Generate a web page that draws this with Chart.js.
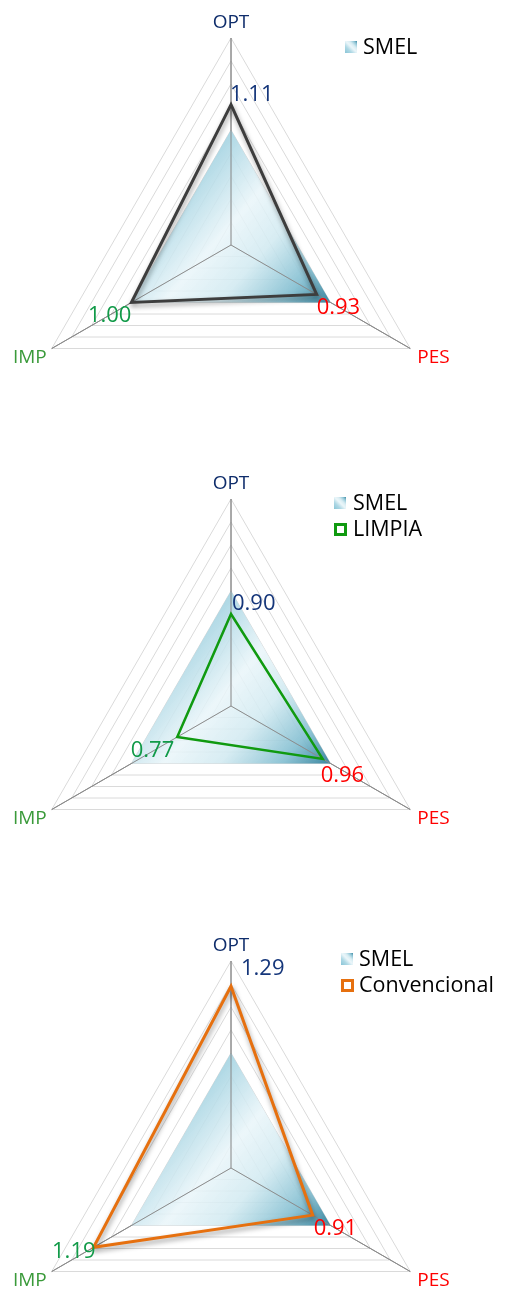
<!DOCTYPE html>
<html>
<head>
<meta charset="utf-8">
<script src="https://cdn.jsdelivr.net/npm/chart.js@4.4.0/dist/chart.umd.min.js"></script>
<style>
  html, body { margin: 0; padding: 0; background: #ffffff; overflow: hidden; }
  #wrap { position: relative; width: 506px; height: 1290px; overflow: hidden; }
  canvas { position: absolute; left: 0; }
</style>
</head>
<body>
<div id="wrap">
  <canvas id="c1" width="506" height="470" style="top:0px"></canvas>
  <canvas id="c2" width="506" height="500" style="top:430px"></canvas>
  <canvas id="c3" width="506" height="560" style="top:860px"></canvas>
</div>
<script>
// Axes, clockwise from the top
const categories = ['OPT', 'PES', 'IMP'];

// Reference profile and the three compared methods
const smel = [1.00, 1.00, 1.00];
const resultado = [1.11, 0.93, 1.00];
const limpia = [0.90, 0.96, 0.77];
const convencional = [1.29, 0.91, 1.19];

// Radial scale range
const scaleMin = 0.5;
const scaleMax = 1.4;
const scaleStep = 0.1;

const FONT = '"Open Sans", "DejaVu Sans", sans-serif';
const axisLabelColors = ['#0f2d6b', '#ff0000', '#3a9a3a'];
const valueLabelColors = ['#15367a', '#ff0000', '#119a48'];

function smelGradient(ctx2d, x0, y0, x1, y1) {
  const g = ctx2d.createLinearGradient(x0, y0, x1, y1);
  g.addColorStop(0.00, 'rgba(128,192,211,0.93)');
  g.addColorStop(0.30, 'rgba(166,212,226,0.89)');
  g.addColorStop(0.52, 'rgba(233,245,249,0.86)');
  g.addColorStop(0.68, 'rgba(210,234,241,0.88)');
  g.addColorStop(0.86, 'rgba(134,192,210,0.93)');
  g.addColorStop(1.00, 'rgba(52,130,156,0.97)');
  return g;
}

function smelFill(context) {
  const chart = context.chart;
  const r = chart.scales.r;
  if (!r || !chart.chartArea) return 'rgba(170,214,227,0.85)';
  const pts = smel.map((v, i) => r.getPointPositionForValue(i, v));
  const xs = pts.map(p => p.x), ys = pts.map(p => p.y);
  return smelGradient(chart.ctx, Math.min(...xs), Math.min(...ys), Math.max(...xs), Math.max(...ys));
}

const radarDecor = {
  id: 'radarDecor',
  beforeDatasetDraw(chart, args) {
    const ds = chart.data.datasets[args.index];
    if (ds.shadow) {
      const c = chart.ctx;
      c.save();
      c.shadowColor = 'rgba(0,0,0,0.40)';
      c.shadowBlur = 5;
      c.shadowOffsetX = 1;
      c.shadowOffsetY = 3;
    }
  },
  afterDatasetDraw(chart, args) {
    const ds = chart.data.datasets[args.index];
    const c = chart.ctx;
    if (ds.shadow) c.restore();
    if (ds.isReference) {
      // spokes stay visible above the shaded reference area
      const r = chart.scales.r;
      c.save();
      c.strokeStyle = '#8c8c8c';
      c.lineWidth = 1;
      categories.forEach((_, i) => {
        const p = r.getPointPosition(i, r.drawingArea);
        c.beginPath();
        c.moveTo(r.xCenter, r.yCenter);
        c.lineTo(p.x, p.y);
        c.stroke();
      });
      c.restore();
    }
  },
  afterDatasetsDraw(chart, args, opts) {
    const c = chart.ctx;
    const r = chart.scales.r;
    c.save();
    // axis names
    c.font = '500 19px ' + FONT;
    c.textBaseline = 'alphabetic';
    categories.forEach((name, i) => {
      const p = r.getPointPosition(i, r.drawingArea);
      c.fillStyle = axisLabelColors[i];
      if (i === 0) { c.textAlign = 'center'; c.fillText(name, p.x, p.y - 10); }
      else if (i === 1) { c.textAlign = 'left'; c.fillText(name, p.x + 7, p.y + 14); }
      else { c.textAlign = 'right'; c.fillText(name, p.x - 5, p.y + 14); }
    });
    // values of the compared series
    c.font = '500 22px ' + FONT;
    chart.data.datasets.forEach((ds, di) => {
      if (!ds.showValues) return;
      const meta = chart.getDatasetMeta(di);
      meta.data.forEach((pt, i) => {
        const off = opts.valueOffsets[i];
        c.fillStyle = valueLabelColors[i];
        c.textAlign = i === 2 ? 'right' : 'left';
        c.fillText(ds.data[i].toFixed(2), pt.x + off[0], pt.y + off[1] + 8);
      });
    });
    c.restore();
  },
  afterDraw(chart, args, opts) {
    const c = chart.ctx;
    const lg = opts.legend;
    c.save();
    c.font = '500 21.5px ' + FONT;
    c.textAlign = 'left';
    c.textBaseline = 'middle';
    let row = 0;
    chart.data.datasets.forEach(ds => {
      if (!ds.label) return;
      const y = lg.y + row * 26;
      const bx = lg.x, by = y - 6, bs = 12;
      if (ds.isReference) {
        c.fillStyle = smelGradient(c, bx, by + bs, bx + bs, by);
        c.fillRect(bx, by, bs, bs);
      } else {
        c.strokeStyle = ds.borderColor;
        c.lineWidth = 3;
        c.strokeRect(bx + 1.5, by + 1.5, bs - 2, bs - 2);
      }
      c.fillStyle = '#000000';
      c.fillText(ds.label, bx + lg.gap, y + 1);
      row++;
    });
    c.restore();
  }
};

function smelDataset() {
  return {
    label: 'SMEL',
    data: smel,
    isReference: true,
    order: 1,
    fill: true,
    backgroundColor: smelFill,
    borderWidth: 0,
    borderColor: 'rgba(0,0,0,0)',
    pointRadius: 0
  };
}

function lineDataset(label, values, color, width, shadow) {
  return {
    label: label,
    data: values,
    order: 0,
    fill: false,
    showValues: true,
    shadow: shadow,
    borderColor: color,
    borderWidth: width,
    borderJoinStyle: 'miter',
    backgroundColor: 'rgba(0,0,0,0)',
    pointRadius: 0
  };
}

function makeRadar(id, lineDs, padding, legend, valueOffsets) {
  return new Chart(document.getElementById(id), {
    type: 'radar',
    data: { labels: categories, datasets: [smelDataset(), lineDs] },
    plugins: [radarDecor],
    options: {
      responsive: false,
      animation: false,
      devicePixelRatio: 1,
      layout: { padding: padding },
      plugins: {
        legend: { display: false },
        tooltip: { enabled: false },
        radarDecor: { legend: legend, valueOffsets: valueOffsets }
      },
      scales: {
        r: {
          min: scaleMin,
          max: scaleMax,
          beginAtZero: false,
          ticks: { display: false, stepSize: scaleStep },
          grid: { color: '#dadada', lineWidth: 1 },
          angleLines: { color: '#8c8c8c', lineWidth: 1 },
          pointLabels: { display: false }
        }
      }
    }
  });
}

makeRadar('c1',
  lineDataset('', resultado, '#3d3d3d', 3, true),
  { left: 24, right: 68, top: 38, bottom: 18 },
  { x: 345, y: 47, gap: 18 },
  [[-1, -12], [0, 12], [0, 11]]);

makeRadar('c2',
  lineDataset('LIMPIA', limpia, '#109a10', 2.5, false),
  { left: 24, right: 68, top: 69, bottom: 17 },
  { x: 334, y: 73, gap: 19 },
  [[1, -12], [-2, 15], [-3, 12]]);

makeRadar('c3',
  lineDataset('Convencional', convencional, '#e6700f', 3, true),
  { left: 24, right: 68, top: 101, bottom: 45 },
  { x: 341, y: 99, gap: 18 },
  [[10, -19], [1, 12], [2, 3]]);
</script>
</body>
</html>
